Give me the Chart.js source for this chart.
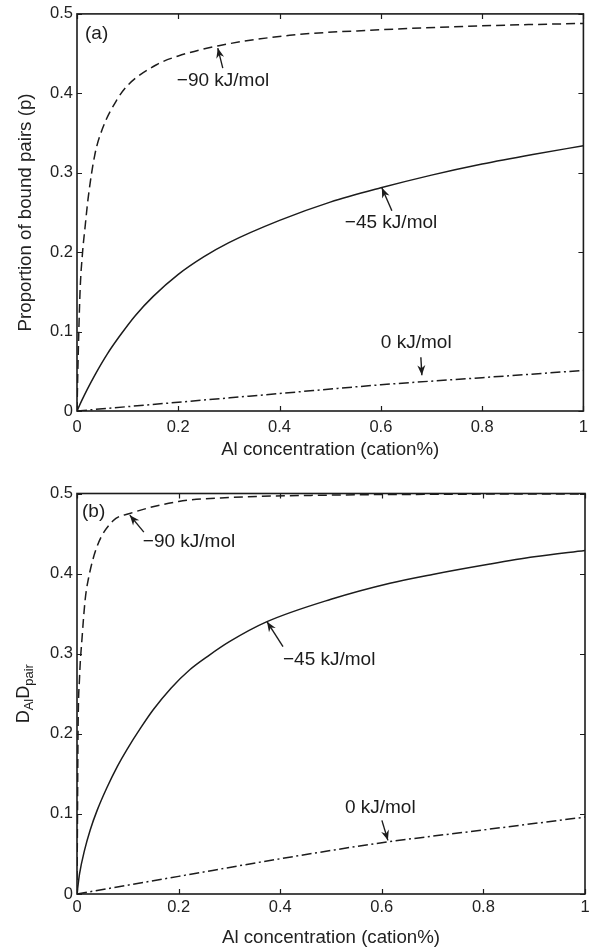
<!DOCTYPE html>
<html>
<head>
<meta charset="utf-8">
<script src="https://cdn.jsdelivr.net/npm/chart.js@4"></script>
<style>
  body { margin: 0; background: #fff; }
  #wrap { position: relative; width: 595px; height: 949px; }
  canvas { position: absolute; left: 0; }
  #chartA { top: 0; }
  #chartB { top: 465px; }
</style>
</head>
<body>
<div id="wrap">
  <canvas id="chartA" width="595" height="465"></canvas>
  <canvas id="chartB" width="595" height="484"></canvas>
</div>
<script>
Chart.defaults.font.family = '"Liberation Sans", Arial, Helvetica, sans-serif'
Chart.defaults.color = '#222'

// ticks
const xTicks = [0, 0.2, 0.4, 0.6, 0.8, 1]
const xTickLabels = ['0', '0.2', '0.4', '0.6', '0.8', '1']
const yTicks = [0, 0.1, 0.2, 0.3, 0.4, 0.5]
const yTickLabels = ['0', '0.1', '0.2', '0.3', '0.4', '0.5']

// (a) proportion of bound pairs
const xA90 = [0, 0.002, 0.006, 0.011, 0.016, 0.022, 0.035, 0.05, 0.079, 0.1, 0.157, 0.2, 0.28, 0.42, 0.6, 0.8, 1]
const yA90 = [0, 0.06, 0.15, 0.2, 0.232, 0.268, 0.322, 0.355, 0.392, 0.41, 0.436, 0.447, 0.46, 0.473, 0.48, 0.485, 0.488]
const xA45 = [0, 0.01, 0.02, 0.035, 0.06, 0.085, 0.115, 0.15, 0.2, 0.25, 0.3, 0.4, 0.5, 0.6, 0.7, 0.8, 0.9, 1]
const yA45 = [0, 0.014, 0.027, 0.045, 0.072, 0.095, 0.12, 0.144, 0.172, 0.194, 0.212, 0.24, 0.263, 0.281, 0.297, 0.311, 0.323, 0.334]
const xA0 = [0, 0.2, 0.4, 0.6, 0.8, 1]
const yA0 = [0, 0.011, 0.022, 0.033, 0.042, 0.051]

// (b) D_Al D_pair
const xB90 = [0, 0.001, 0.002, 0.005, 0.01, 0.016, 0.022, 0.039, 0.071, 0.104, 0.2, 0.3, 0.5, 0.7, 1]
const yB90 = [0, 0.1, 0.2, 0.27, 0.32, 0.367, 0.392, 0.433, 0.466, 0.475, 0.49, 0.495, 0.498, 0.499, 0.4995]
const xB45 = [0, 0.005, 0.015, 0.026, 0.04, 0.059, 0.08, 0.098, 0.125, 0.15, 0.185, 0.222, 0.26, 0.3, 0.374, 0.5, 0.616, 0.7, 0.813, 0.9, 1]
const yB45 = [0, 0.025, 0.055, 0.08, 0.105, 0.133, 0.16, 0.18, 0.207, 0.23, 0.257, 0.28, 0.298, 0.315, 0.34, 0.368, 0.388, 0.399, 0.412, 0.421, 0.429]
const xB0 = [0, 0.2, 0.4, 0.6, 0.8, 1]
const yB0 = [0, 0.022, 0.044, 0.064, 0.08, 0.096]

const seriesNames = ['−90 kJ/mol', '−45 kJ/mol', '0 kJ/mol']

const INK = '#1c1c1c'
const dashes = [[9, 5], [], [10, 3.5, 2, 3.5]]
const FAMILY = '"Liberation Sans", Arial, sans-serif'

const toPoints = (xs, ys) => xs.map((x, i) => ({ x, y: ys[i] }))

// frame with inward ticks, arrows with labels, panel letter
const paperPlugin = {
  id: 'paper',
  afterDraw(chart, args, opts) {
    const { ctx, chartArea: a, scales: { x, y } } = chart
    ctx.save()
    ctx.strokeStyle = INK
    ctx.lineWidth = 1.6
    ctx.strokeRect(a.left, a.top, a.right - a.left, a.bottom - a.top)
    ctx.lineWidth = 1.2
    ctx.beginPath()
    x.ticks.forEach(t => {
      const px = Math.round(x.getPixelForValue(t.value)) + 0.5
      ctx.moveTo(px, a.bottom); ctx.lineTo(px, a.bottom - 5)
      ctx.moveTo(px, a.top); ctx.lineTo(px, a.top + 5)
    })
    y.ticks.forEach(t => {
      const py = Math.round(y.getPixelForValue(t.value)) + 0.5
      ctx.moveTo(a.left, py); ctx.lineTo(a.left + 5, py)
      ctx.moveTo(a.right, py); ctx.lineTo(a.right - 5, py)
    })
    ctx.stroke()

    ctx.fillStyle = INK
    ctx.font = '19px ' + FAMILY
    ctx.textBaseline = 'middle'
    ctx.textAlign = 'left'
    ctx.fillText(opts.panel, a.left + opts.panelPos[0], a.top + opts.panelPos[1])

    opts.notes.forEach(n => {
      const tx = x.getPixelForValue(n.at[0])
      const ty = y.getPixelForValue(n.at[1])
      const sx = tx + n.tail[0]
      const sy = ty + n.tail[1]
      ctx.lineWidth = 1.4
      ctx.beginPath(); ctx.moveTo(sx, sy); ctx.lineTo(tx, ty); ctx.stroke()
      const ang = Math.atan2(ty - sy, tx - sx)
      ctx.beginPath()
      ctx.moveTo(tx, ty)
      ctx.lineTo(tx - 10 * Math.cos(ang) + 4 * Math.sin(ang), ty - 10 * Math.sin(ang) - 4 * Math.cos(ang))
      ctx.lineTo(tx - 7 * Math.cos(ang), ty - 7 * Math.sin(ang))
      ctx.lineTo(tx - 10 * Math.cos(ang) - 4 * Math.sin(ang), ty - 10 * Math.sin(ang) + 4 * Math.cos(ang))
      ctx.closePath(); ctx.fill()
      ctx.fillText(n.text, tx + n.label[0], ty + n.label[1])
    })

    if (opts.yParts) {
      ctx.translate(opts.yTitleX, (a.top + a.bottom) / 2)
      ctx.rotate(-Math.PI / 2)
      ctx.textBaseline = 'alphabetic'
      const big = '18px ' + FAMILY
      const small = '13px ' + FAMILY
      let w = 0
      opts.yParts.forEach(([t, sub]) => { ctx.font = sub ? small : big; w += ctx.measureText(t).width })
      let cx = -w / 2
      opts.yParts.forEach(([t, sub]) => {
        ctx.font = sub ? small : big
        ctx.fillText(t, cx, sub ? 4 : 0)
        cx += ctx.measureText(t).width
      })
    }
    ctx.restore()
  }
}

const makeChart = (id, cfg) => {
  const series = [[cfg.x90, cfg.y90], [cfg.x45, cfg.y45], [cfg.x0, cfg.y0]]
  const data = {
    datasets: series.map(([xs, ys], i) => ({
      label: seriesNames[i],
      data: toPoints(xs, ys),
      borderColor: INK,
      borderWidth: 1.5,
      borderDash: dashes[i],
      pointRadius: 0,
      cubicInterpolationMode: 'monotone',
      fill: false
    }))
  }

  const options = {
    responsive: false,
    animation: false,
    layout: { padding: { top: cfg.top, right: 10, left: 0, bottom: 0 } },
    plugins: {
      legend: { display: false },
      tooltip: { enabled: false },
      paper: cfg.paper
    },
    scales: {
      x: {
        type: 'linear',
        min: 0, max: 1,
        afterBuildTicks: s => { s.ticks = xTicks.map(v => ({ value: v })) },
        afterFit: s => { s.height = cfg.xHeight },
        ticks: {
          padding: cfg.xTickPad,
          font: { size: 16.5 },
          color: '#222',
          maxRotation: 0,
          callback: (v, i) => xTickLabels[i]
        },
        grid: { display: false, drawTicks: false },
        border: { display: false },
        title: {
          display: true,
          text: 'Al concentration (cation%)',
          font: { size: 18.7 },
          color: '#222',
          padding: { top: 0, bottom: cfg.xTitlePad }
        }
      },
      y: {
        min: 0, max: 0.5,
        afterBuildTicks: s => { s.ticks = yTicks.map(v => ({ value: v })) },
        afterFit: s => { s.width = 77 },
        ticks: {
          padding: 4,
          font: { size: 16.5 },
          color: '#222',
          callback: (v, i) => yTickLabels[i]
        },
        grid: { display: false, drawTicks: false },
        border: { display: false },
        title: {
          display: !!cfg.yTitle,
          text: cfg.yTitle || '',
          font: { size: 18.7 },
          color: '#222',
          padding: { top: 15, bottom: 0 }
        }
      }
    }
  }

  return new Chart(id, { type: 'line', data, options, plugins: [paperPlugin] })
}

makeChart('chartA', {
  x90: xA90, y90: yA90, x45: xA45, y45: yA45, x0: xA0, y0: yA0,
  top: 13, xHeight: 54, xTickPad: 7, xTitlePad: 4,
  yTitle: 'Proportion of bound pairs (p)',
  paper: {
    panel: '(a)', panelPos: [8, 20],
    notes: [
      { text: seriesNames[0], at: [0.278, 0.457], tail: [5, 20], label: [-41, 33] },
      { text: seriesNames[1], at: [0.602, 0.281], tail: [10, 23], label: [-37, 35] },
      { text: seriesNames[2], at: [0.681, 0.045], tail: [-1, -18], label: [-41, -32] }
    ]
  }
})

makeChart('chartB', {
  x90: xB90, y90: yB90, x45: xB45, y45: yB45, x0: xB0, y0: yB0,
  top: 28.5, xHeight: 55, xTickPad: 4, xTitlePad: 0,
  yTitle: null,
  paper: {
    panel: '(b)', panelPos: [5, 18],
    yTitleX: 29,
    yParts: [['D', false], ['Al', true], ['D', false], ['pair', true]],
    notes: [
      { text: seriesNames[0], at: [0.104, 0.473], tail: [14, 17], label: [13, 27] },
      { text: seriesNames[1], at: [0.374, 0.34], tail: [16, 25], label: [16, 38] },
      { text: seriesNames[2], at: [0.612, 0.067], tail: [-6, -20], label: [-43, -33] }
    ]
  }
})
</script>
</body>
</html>
